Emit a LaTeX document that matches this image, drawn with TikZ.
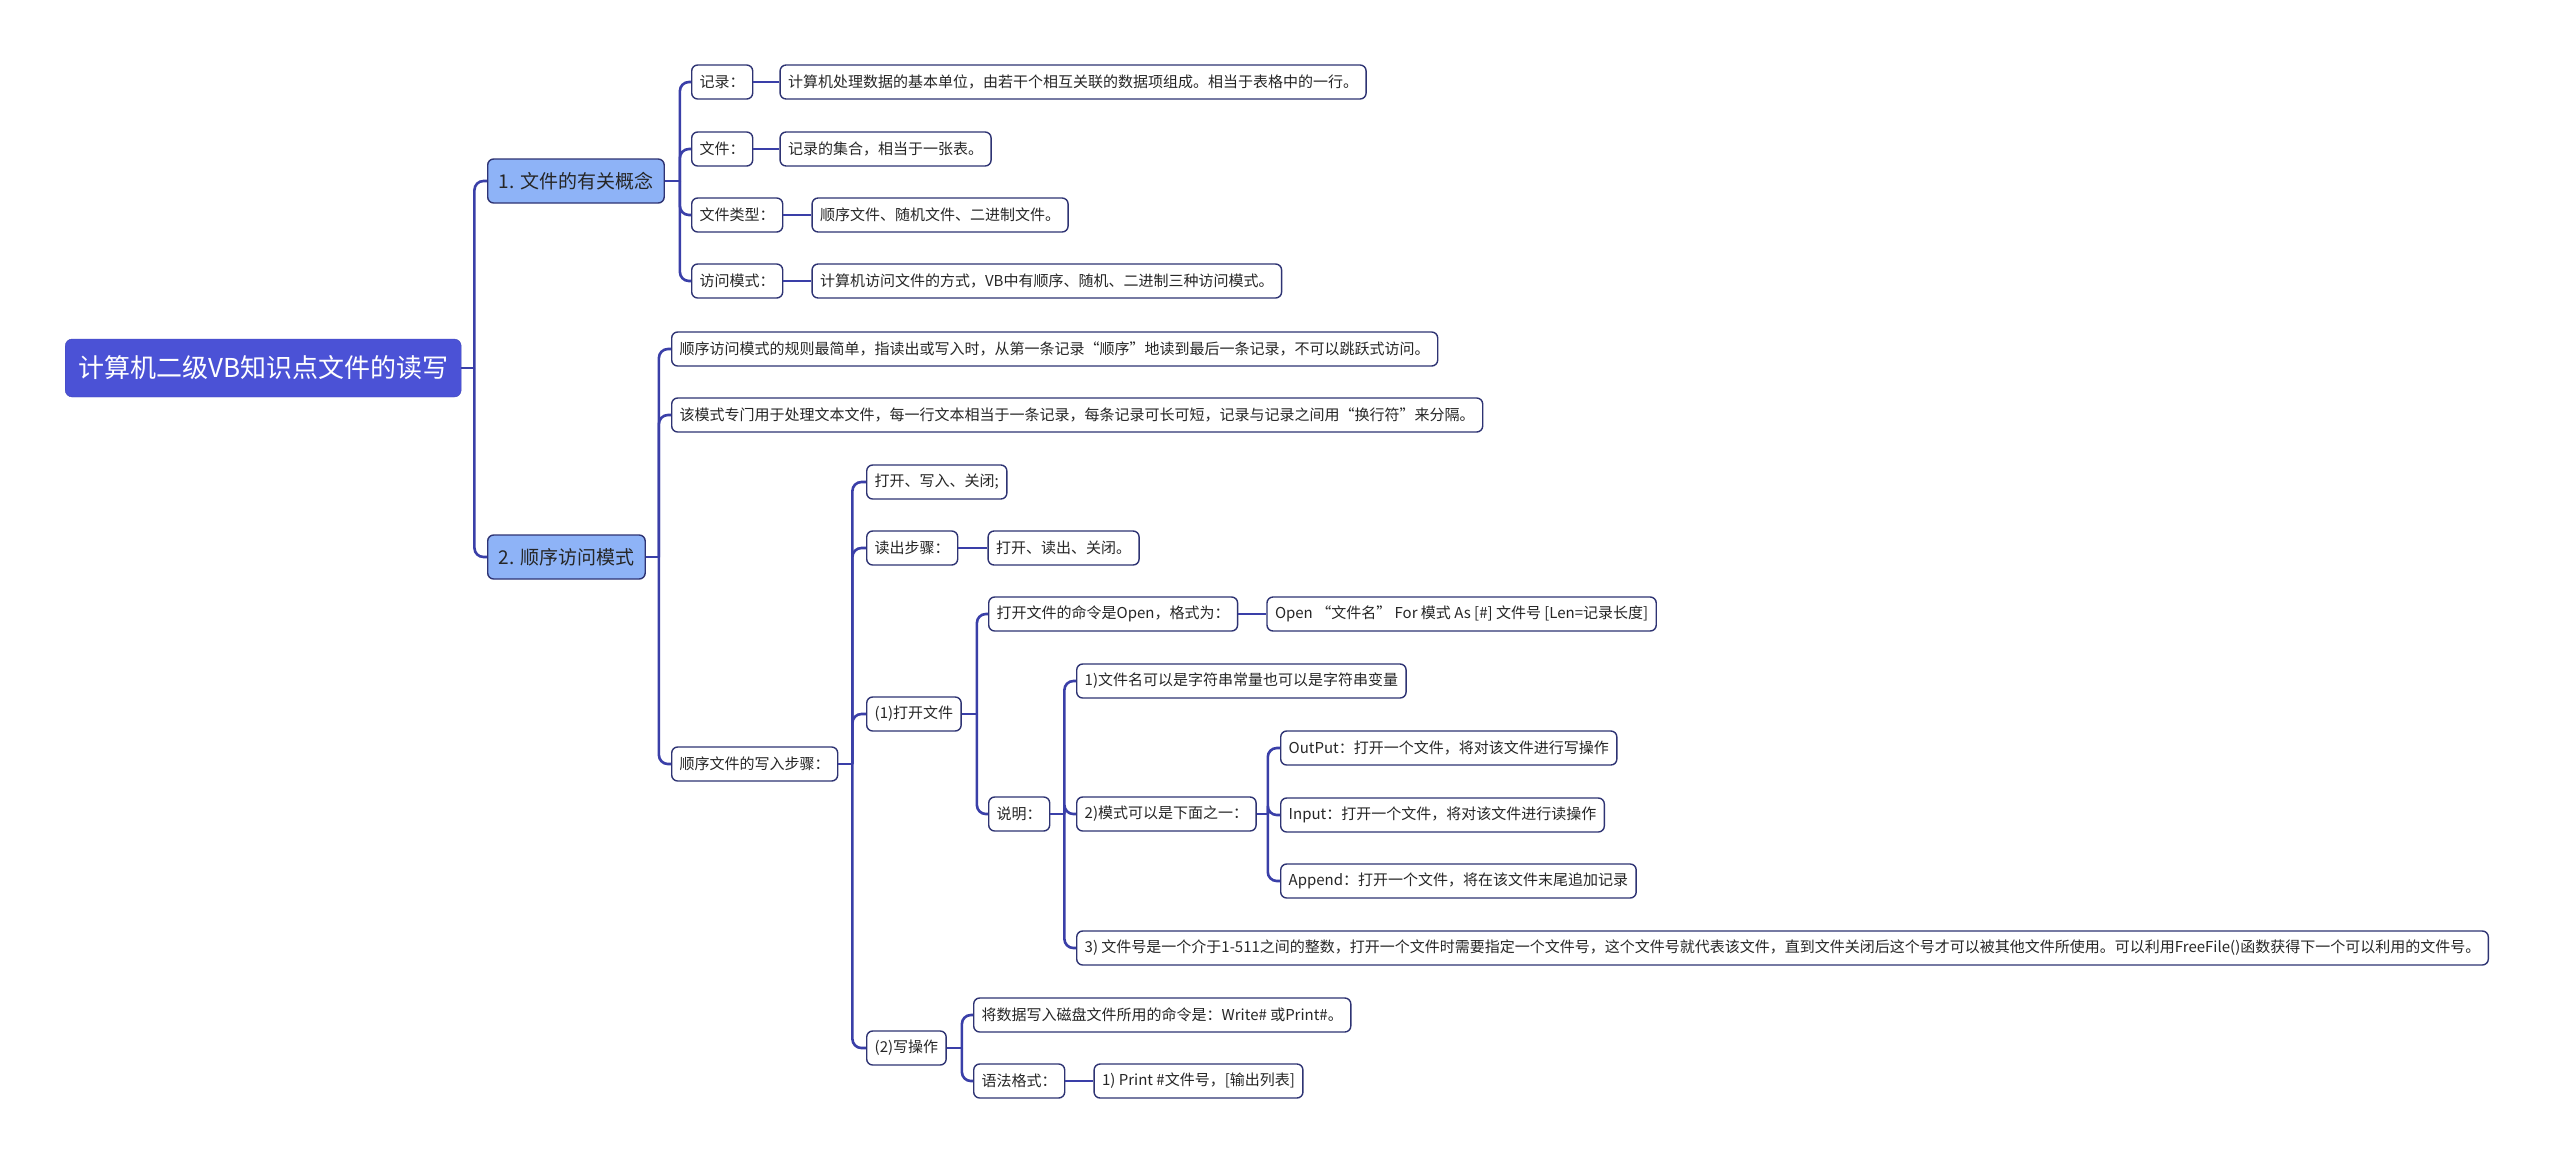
\documentclass[tikz,border=0pt]{standalone}
\usepackage{fontspec}
\setmainfont{Noto Sans CJK SC}
\usetikzlibrary{positioning}
\definecolor{rootfill}{HTML}{4B52D6}
\definecolor{topicfill}{HTML}{8EB3F7}
\definecolor{boxline}{HTML}{2E3373}
\definecolor{linkline}{HTML}{3A3FA8}
\definecolor{inktext}{HTML}{262626}

\begin{document}
\begin{tikzpicture}[x=1pt, y=-1pt,
  root/.style={rectangle, fill=rootfill, draw=rootfill!85!black, rounded corners=7pt,
               text=white, anchor=west, inner xsep=13pt, minimum height=58pt,
               font=\fontsize{26}{32}\selectfont},
  topic/.style={rectangle, fill=topicfill, draw=boxline, line width=1.4pt, rounded corners=6pt,
                text=inktext, anchor=west, inner xsep=11pt, minimum height=44pt,
                font=\fontsize{19}{24}\selectfont},
  leaf/.style={rectangle, fill=white, draw=boxline, line width=1.4pt, rounded corners=6pt,
               text=inktext, anchor=west, inner xsep=8pt, minimum height=34pt,
               font=\fontsize{15}{18}\selectfont},
  link/.style={draw=linkline, line width=2.6pt, rounded corners=9pt}
]
\fill[white] (0,0) rectangle (2560,1163);
\useasboundingbox (0,0) rectangle (2560,1163);

% root and main topics
\node[root] (root) at (65,368) {计算机二级VB知识点文件的读写};
\node[topic] (t1) at (487,181) {1. 文件的有关概念};
\node[topic] (t2) at (487,557) {2. 顺序访问模式};

% 1. concepts
\node[leaf] (rec) at (691,82) {记录：};
\node[leaf] (fil) at (691,149) {文件：};
\node[leaf] (typ) at (691,215) {文件类型：};
\node[leaf] (acc) at (691,281) {访问模式：};
\node[leaf, right=26pt of rec] (recd) {计算机处理数据的基本单位，由若干个相互关联的数据项组成。相当于表格中的一行。};
\node[leaf, right=26pt of fil] (fild) {记录的集合，相当于一张表。};
\node[leaf, right=28pt of typ] (typd) {顺序文件、随机文件、二进制文件。};
\node[leaf, right=28pt of acc] (accd) {计算机访问文件的方式，VB中有顺序、随机、二进制三种访问模式。};

% 2. sequential mode
\node[leaf] (seq1) at (671,349) {顺序访问模式的规则最简单，指读出或写入时，从第一条记录“顺序”地读到最后一条记录，不可以跳跃式访问。};
\node[leaf] (seq2) at (671,415) {该模式专门用于处理文本文件，每一行文本相当于一条记录，每条记录可长可短，记录与记录之间用“换行符”来分隔。};
\node[leaf] (wstep) at (671,764) {顺序文件的写入步骤：};

\node[leaf] (w1) at (866,482) {打开、写入、关闭;};
\node[leaf] (rd) at (866,548) {读出步骤：};
\node[leaf, right=29pt of rd] (rdd) {打开、读出、关闭。};
\node[leaf] (op) at (866,714) {(1)打开文件};
\node[leaf] (wr) at (866,1048) {(2)写操作};

\node[leaf] (opcmd) at (988,614) {打开文件的命令是Open，格式为：};
\node[leaf, right=28pt of opcmd] (opfmt) {Open “文件名” For 模式 As [\#] 文件号 [Len=记录长度]};
\node[leaf] (note) at (988,814) {说明：};

\node[leaf] (n1) at (1076,681) {1)文件名可以是字符串常量也可以是字符串变量};
\node[leaf] (n2) at (1076,814) {2)模式可以是下面之一：};
\node[leaf] (n3) at (1076,948) {3) 文件号是一个介于1-511之间的整数，打开一个文件时需要指定一个文件号，这个文件号就代表该文件，直到文件关闭后这个号才可以被其他文件所使用。可以利用FreeFile()函数获得下一个可以利用的文件号。};

\node[leaf] (mout) at (1280,748) {OutPut：打开一个文件，将对该文件进行写操作};
\node[leaf] (min) at (1280,815) {Input：打开一个文件，将对该文件进行读操作};
\node[leaf] (mapp) at (1280,881) {Append：打开一个文件，将在该文件末尾追加记录};

\node[leaf] (wcmd) at (973,1015) {将数据写入磁盘文件所用的命令是：Write\# 或Print\#。};
\node[leaf] (syn) at (973,1081) {语法格式：};
\node[leaf, right=28pt of syn] (synd) {1) Print \#文件号，[输出列表]};

% branches
\draw[link] (root.east) -- ++(13,0);
\foreach \c in {t1,t2} \draw[link] ([xshift=13pt]root.east) |- (\c.west);
\draw[link] (t1.east) -- ++(15,0);
\foreach \c in {rec,fil,typ,acc} \draw[link] ([xshift=15pt]t1.east) |- (\c.west);
\draw[link] (t2.east) -- ++(13,0);
\foreach \c in {seq1,seq2,wstep} \draw[link] ([xshift=13pt]t2.east) |- (\c.west);
\draw[link] (wstep.east) -- ++(14,0);
\foreach \c in {w1,rd,op,wr} \draw[link] ([xshift=14pt]wstep.east) |- (\c.west);
\draw[link] (op.east) -- ++(15,0);
\foreach \c in {opcmd,note} \draw[link] ([xshift=15pt]op.east) |- (\c.west);
\draw[link] (note.east) -- ++(14,0);
\foreach \c in {n1,n2,n3} \draw[link] ([xshift=14pt]note.east) |- (\c.west);
\draw[link] (n2.east) -- ++(11,0);
\foreach \c in {mout,min,mapp} \draw[link] ([xshift=11pt]n2.east) |- (\c.west);
\draw[link] (wr.east) -- ++(15,0);
\foreach \c in {wcmd,syn} \draw[link] ([xshift=15pt]wr.east) |- (\c.west);

% single children
\foreach \a/\b in {rec/recd,fil/fild,typ/typd,acc/accd,rd/rdd,opcmd/opfmt,syn/synd}
  \draw[link] (\a.east) -- (\b.west);
\end{tikzpicture}
\end{document}
